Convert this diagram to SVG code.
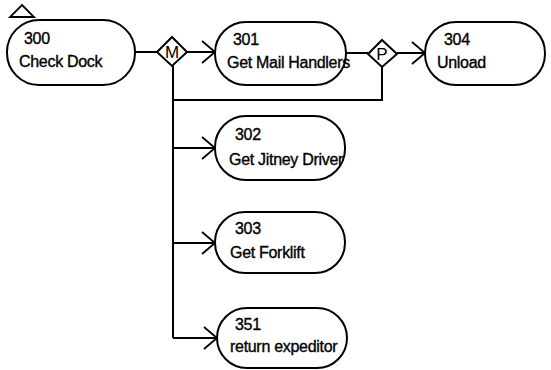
<svg xmlns="http://www.w3.org/2000/svg" width="551" height="370" viewBox="0 0 551 370">
<style>
.node{fill:#fff;stroke:#000;stroke-width:2}
.gate{fill:#fff;stroke:#000;stroke-width:2}
.t{font-family:"Liberation Sans",Arial,sans-serif;font-size:16px;fill:#000;stroke:#000;stroke-width:0.35;letter-spacing:-0.3px}
.g{font-family:"Liberation Sans",Arial,sans-serif;font-size:17px;fill:#000;text-anchor:middle}
.c{fill:none;stroke:#000;stroke-width:2}
</style>
<defs>
<marker id="arr" markerWidth="16" markerHeight="26" refX="14" refY="12" orient="auto" markerUnits="userSpaceOnUse">
<path d="M1,1 L14,12 L1,23" fill="none" stroke="#000" stroke-width="1.8"/>
</marker>
</defs>
<g id="connectors">
<path class="c" d="M135,52 H157"/>
<path class="c" d="M187,52 H215" marker-end="url(#arr)"/>
<path class="c" d="M346,53 H368"/>
<path class="c" d="M397,53 H425" marker-end="url(#arr)"/>
<path class="c" d="M382,67 V100 H173"/>
<path class="c" d="M173,66 V338"/>
<path class="c" d="M173,148 H215" marker-end="url(#arr)"/>
<path class="c" d="M173,243 H215" marker-end="url(#arr)"/>
<path class="c" d="M173,338 H217" marker-end="url(#arr)"/>
</g>
<g id="start-marker">
<path d="M22,5 L34,17 L10,17 Z" fill="#fff" stroke="#000" stroke-width="1.8"/>
</g>
<g id="node-300">
<rect class="node" x="7" y="20" width="128" height="65" rx="32" ry="32"/>
<text class="t" x="24" y="44">300</text>
<text class="t" x="19" y="67">Check Dock</text>
</g>
<g id="gate-M">
<path class="gate" d="M172,37 L187,52 L172,66 L157,52 Z"/>
<text class="g" x="172" y="58">M</text>
</g>
<g id="node-301">
<rect class="node" x="215" y="22" width="131" height="63" rx="31" ry="31"/>
<text class="t" x="233" y="45">301</text>
<text class="t" x="227" y="68">Get Mail Handlers</text>
</g>
<g id="gate-P">
<path class="gate" d="M382,40 L397,54 L382,67 L368,54 Z"/>
<text class="g" x="382" y="60">P</text>
</g>
<g id="node-304">
<rect class="node" x="425" y="22" width="120" height="63" rx="31" ry="31"/>
<text class="t" x="444" y="45">304</text>
<text class="t" x="437" y="68">Unload</text>
</g>
<g id="node-302">
<rect class="node" x="215" y="116" width="130" height="64" rx="31" ry="31"/>
<text class="t" x="235" y="140">302</text>
<text class="t" x="229" y="165">Get Jitney Driver</text>
</g>
<g id="node-303">
<rect class="node" x="215" y="212" width="130" height="61" rx="30" ry="30"/>
<text class="t" x="235" y="234">303</text>
<text class="t" x="230" y="258">Get Forklift</text>
</g>
<g id="node-351">
<rect class="node" x="217" y="308" width="130" height="60" rx="30" ry="30"/>
<text class="t" x="235" y="330">351</text>
<text class="t" x="230" y="352">return expeditor</text>
</g>
</svg>
